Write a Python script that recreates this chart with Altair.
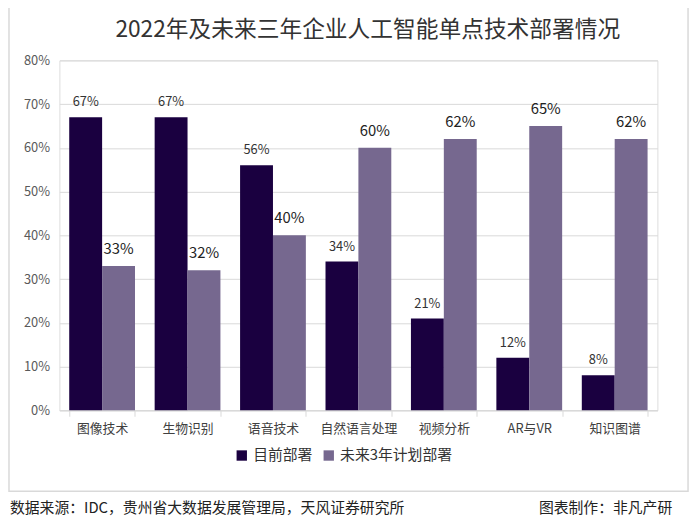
import altair as alt
import pandas as pd

title_text = "2022年及未来三年企业人工智能单点技术部署情况"
categories = ["图像技术", "生物识别", "语音技术", "自然语言处理", "视频分析", "AR与VR", "知识图谱"]
series_names = ["目前部署", "未来3年计划部署"]
current = [67, 67, 56, 34, 21, 12, 8]
future = [33, 32, 40, 60, 62, 65, 62]
y_ticks = [0, 10, 20, 30, 40, 50, 60, 70, 80]

rows = []
for c, a, b in zip(categories, current, future):
    rows.append({"cat": c, "series": series_names[0], "value": a, "label": f"{a}%"})
    rows.append({"cat": c, "series": series_names[1], "value": b, "label": f"{b}%"})
df = pd.DataFrame(rows)

FONT = "Noto Sans CJK SC"
DARK = "#1a0040"
LIGHT = "#76688f"
GRID = "#d9d9d9"

xenc = alt.X("cat:N", sort=categories,
             scale=alt.Scale(paddingInner=0.23, paddingOuter=0.115),
             axis=alt.Axis(title=None, labelAngle=0, labelFontSize=13, labelColor="#404040",
                           labelFont=FONT, labelPadding=6, domainColor=GRID, tickColor=GRID,
                           tickSize=6, tickBand="extent", grid=False))
yenc = alt.Y("value:Q", scale=alt.Scale(domain=[0, 80]),
             axis=alt.Axis(title=None, values=y_ticks, labelExpr="datum.value + '%'",
                           labelFontSize=13, labelColor="#595959", labelFont=FONT,
                           labelPadding=10, domain=False, ticks=False, gridColor=GRID))
xoff = alt.XOffset("series:N", sort=series_names, scale=alt.Scale(paddingInner=0, paddingOuter=0))

base = alt.Chart(df)

bars = base.mark_bar().encode(
    x=xenc, y=yenc, xOffset=xoff,
    color=alt.Color("series:N", sort=series_names,
                    scale=alt.Scale(domain=series_names, range=[DARK, LIGHT]),
                    legend=alt.Legend(title=None, orient="none", legendX=177, legendY=392,
                                      direction="horizontal", symbolType="square",
                                      symbolSize=110, symbolStrokeWidth=0,
                                      labelFontSize=15, labelFont=FONT, labelColor="#333333",
                                      columnPadding=8, labelOffset=4)),
)

lab_cur = base.transform_filter(alt.datum.series == series_names[0]).mark_text(
    dy=-8, baseline="bottom", fontSize=13, font=FONT, color="#333333"
).encode(x=alt.X("cat:N", sort=categories), y="value:Q", xOffset=xoff, text="label:N")

lab_fut = base.transform_filter(alt.datum.series == series_names[1]).mark_text(
    dy=-9, baseline="bottom", fontSize=15, font=FONT, color="#222222"
).encode(x=alt.X("cat:N", sort=categories), y="value:Q", xOffset=xoff, text="label:N")

border = alt.Chart(pd.DataFrame({"a": [0]})).mark_rect(
    fillOpacity=0, stroke=GRID, strokeWidth=1.5
).encode(x=alt.value(-51), x2=alt.value(636), y=alt.value(-56), y2=alt.value(436))

title_mark = alt.Chart(pd.DataFrame({"t": [title_text]})).mark_text(
    align="center", baseline="alphabetic", fontSize=23, font=FONT, color="#333333"
).encode(x=alt.value(312), y=alt.value(-24), text="t:N")

foot_left = alt.Chart(pd.DataFrame({"t": ["数据来源：IDC，贵州省大数据发展管理局，天风证券研究所"]})).mark_text(
    align="left", baseline="alphabetic", fontSize=15, font=FONT, color="#222222"
).encode(x=alt.value(-50), y=alt.value(458), text="t:N")

foot_right = alt.Chart(pd.DataFrame({"t": ["图表制作：非凡产研"]})).mark_text(
    align="right", baseline="alphabetic", fontSize=15, font=FONT, color="#222222"
).encode(x=alt.value(620), y=alt.value(458), text="t:N")

chart = alt.layer(border, title_mark, bars, lab_cur, lab_fut, foot_left, foot_right).properties(
    width=605, height=354,
    autosize=alt.AutoSizeParams(type="none"),
    padding={"left": 52, "top": 50, "right": 35, "bottom": 110},
).configure_view(stroke=None).configure(background="white")

chart.save("out.html", embed_options={"renderer": "svg", "actions": False})
